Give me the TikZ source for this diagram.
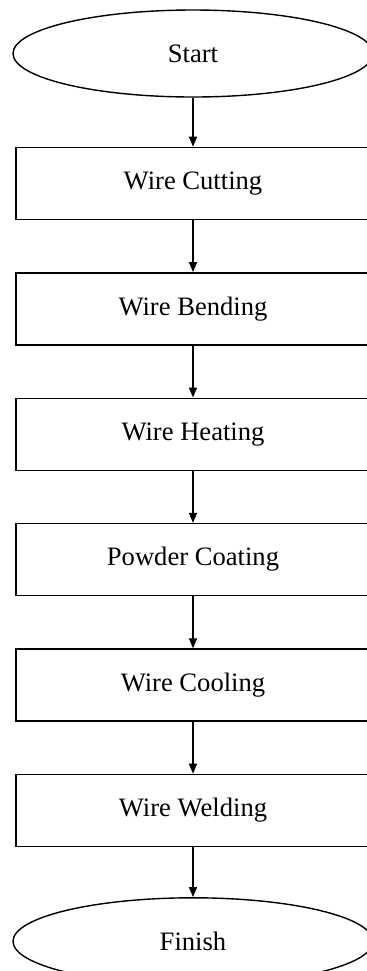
\documentclass[tikz,border=0pt]{standalone}
\usepackage{fontspec}
\setmainfont{Liberation Serif}
\usetikzlibrary{arrows.meta,positioning,shapes.geometric}

\begin{document}
\begin{tikzpicture}[
    >={Triangle[length=5pt,width=4pt]},
    node distance=26pt,
    flow/.style={->,line width=0.7pt},
    terminal/.style={ellipse,draw,line width=0.7pt,minimum width=180pt,minimum height=43.5pt,inner sep=0pt,font=\fontsize{13.3}{16}\selectfont},
    process/.style={rectangle,draw,line width=0.7pt,minimum width=177pt,minimum height=36pt,inner sep=0pt,font=\fontsize{13.3}{16}\selectfont},
]
\useasboundingbox (0,0) rectangle (183pt,-485.5pt);

% === Nodes ===
\node[terminal] (start) at (96.5pt,-26.75pt) {Start};
\node[process,below=24.5pt of start] (cutting) {Wire Cutting};
\node[process,below=of cutting] (bending) {Wire Bending};
\node[process,below=of bending] (heating) {Wire Heating};
\node[process,below=of heating] (coating) {Powder Coating};
\node[process,below=of coating] (cooling) {Wire Cooling};
\node[process,below=of cooling] (welding) {Wire Welding};
\node[terminal,below=25pt of welding] (finish) {Finish};

% === Arrows ===
\draw[flow] (start) -- (cutting);
\draw[flow] (cutting) -- (bending);
\draw[flow] (bending) -- (heating);
\draw[flow] (heating) -- (coating);
\draw[flow] (coating) -- (cooling);
\draw[flow] (cooling) -- (welding);
\draw[flow] (welding) -- (finish);
\end{tikzpicture}
\end{document}
